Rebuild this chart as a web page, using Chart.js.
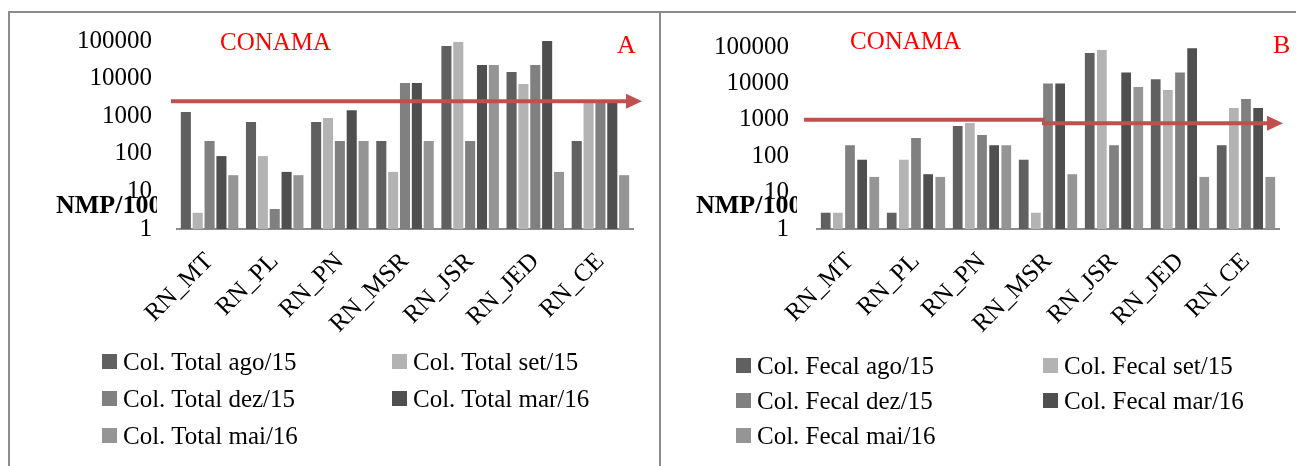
<!DOCTYPE html>
<html>
<head>
<meta charset="utf-8">
<script src="https://cdn.jsdelivr.net/npm/chart.js@4.4.0/dist/chart.umd.min.js"></script>
<style>
  body { margin: 0; background: #fff; font-family: "Liberation Serif", "DejaVu Serif", serif; }
  #page { position: relative; width: 1296px; height: 466px; overflow: hidden; background: #fff; }
  .rule { position: absolute; background: #8c8c8c; }
  .panel { position: absolute; top: 13px; }
  .note { position: absolute; color: #ff0000; line-height: 1; white-space: nowrap; }
  .legend { position: absolute; display: grid; font-size: 25px; color: #000; }
  .legend .item { display: flex; align-items: center; white-space: nowrap; }
  .legend .box { width: 15px; height: 15px; margin-right: 6px; flex: none; }
</style>
</head>
<body>
<div id="page">
  <div class="rule" style="left:8px; top:11px; width:1288px; height:2px;"></div>
  <div class="rule" style="left:8px; top:11px; width:2px; height:455px;"></div>
  <div class="rule" style="left:659px; top:11px; width:2px; height:455px;"></div>

  <div class="panel" style="left:10px;"><canvas id="chartA" width="648" height="332"></canvas></div>
  <div class="panel" style="left:662px;"><canvas id="chartB" width="634" height="332"></canvas></div>

  <div class="note" style="left:220px; top:29px; font-size:25px;">CONAMA</div>
  <div class="note" style="left:617px; top:32px; font-size:26px;">A</div>
  <div class="note" style="left:850px; top:28px; font-size:25px;">CONAMA</div>
  <div class="note" style="left:1273px; top:32px; font-size:26px;">B</div>

  <div class="legend" id="legendA" style="left:102px; top:343px; grid-template-columns:290px 290px; grid-auto-rows:37px;"></div>
  <div class="legend" id="legendB" style="left:736px; top:348px; grid-template-columns:307px 307px; grid-auto-rows:35px;"></div>
</div>

<script>
const categories = ["RN_MT", "RN_PL", "RN_PN", "RN_MSR", "RN_JSR", "RN_JED", "RN_CE"];
const yTicks = [1, 10, 100, 1000, 10000, 100000];
const seriesColors = ["#606060", "#b3b3b3", "#808080", "#4f4f4f", "#959595"];

// Panel A - coliformes totais
const totalLabels = ["Col. Total ago/15", "Col. Total set/15", "Col. Total dez/15", "Col. Total mar/16", "Col. Total mai/16"];
const totalAgo = [1300, 700, 700, 220, 74000, 15000, 220];
const totalSet = [2.7, 87, 900, 33, 94000, 7200, 2300];
const totalDez = [220, 3.4, 220, 7600, 220, 23000, 2300];
const totalMar = [87, 33, 1450, 7600, 23000, 100000, 2300];
const totalMai = [27, 27, 220, 220, 23000, 33, 27];
const limitTotal = [2500];

// Panel B - coliformes fecais
const fecalLabels = ["Col. Fecal ago/15", "Col. Fecal set/15", "Col. Fecal dez/15", "Col. Fecal mar/16", "Col. Fecal mai/16"];
const fecalAgo = [2.8, 2.8, 680, 80, 68000, 13000, 200];
const fecalSet = [2.8, 80, 820, 2.8, 83000, 6600, 2100];
const fecalDez = [200, 316, 380, 10000, 200, 20000, 3700];
const fecalMar = [80, 32, 200, 10000, 20000, 93000, 2100];
const fecalMai = [27, 27, 200, 32, 8000, 27, 27];
const limitFecal = [1000, 800];
const limitFecalStep = 3; // the drawn line drops a little near RN_MSR

const FONT = "'Liberation Serif', 'DejaVu Serif', serif";

// y title (clipped like in the original) + CONAMA limit arrow
const panelExtras = {
  id: "panelExtras",
  afterDatasetsDraw(chart, args, opts) {
    const ctx = chart.ctx;
    const area = chart.chartArea;
    const xs = chart.scales.x;
    const ys = chart.scales.y;

    ctx.save();
    ctx.beginPath();
    ctx.rect(0, 0, area.left - 20, chart.height);
    ctx.clip();
    ctx.font = "bold 26px " + FONT;
    ctx.fillStyle = "#000";
    ctx.textBaseline = "alphabetic";
    ctx.fillText("NMP/100mL", area.left - 121, area.bottom - 16);
    ctx.restore();

    const limits = opts.limits;
    const start = area.left - opts.startOffset;
    const tip = area.right + opts.tipOffset;
    const headLen = 16;
    ctx.save();
    ctx.strokeStyle = "#c0504d";
    ctx.fillStyle = "#c0504d";
    ctx.lineWidth = 4;
    let y0 = ys.getPixelForValue(limits[0]);
    ctx.beginPath();
    if (limits.length > 1) {
      const stepX = xs.getPixelForValue(opts.step) - 6;
      const y1 = ys.getPixelForValue(limits[1]);
      ctx.moveTo(start, y0);
      ctx.lineTo(stepX + 3, y0);
      ctx.moveTo(stepX, y1);
      ctx.lineTo(tip - headLen + 2, y1);
      y0 = y1;
    } else {
      ctx.moveTo(start, y0);
      ctx.lineTo(tip - headLen + 2, y0);
    }
    ctx.stroke();
    ctx.beginPath();
    ctx.moveTo(tip, y0);
    ctx.lineTo(tip - headLen, y0 - 7.5);
    ctx.lineTo(tip - headLen, y0 + 7.5);
    ctx.closePath();
    ctx.fill();
    ctx.restore();
  }
};

function makeDatasets(labels, series, barPct, catPct) {
  return series.map((values, i) => ({
    label: labels[i],
    data: values,
    backgroundColor: seriesColors[i],
    borderWidth: 0,
    barPercentage: barPct,
    categoryPercentage: catPct
  }));
}

function makeChart(id, datasets, cfg) {
  return new Chart(document.getElementById(id), {
    type: "bar",
    data: { labels: categories, datasets: datasets },
    options: {
      responsive: false,
      animation: false,
      layout: { padding: { top: cfg.top, right: cfg.right, left: 0, bottom: 0 } },
      plugins: {
        legend: { display: false },
        tooltip: { enabled: false },
        panelExtras: { limits: cfg.limits, step: cfg.step, startOffset: cfg.startOffset, tipOffset: cfg.tipOffset }
      },
      scales: {
        x: {
          grid: { display: false, drawTicks: false },
          border: { display: true, color: "#8c8c8c", width: 2 },
          ticks: {
            color: "#000",
            autoSkip: false,
            minRotation: 45,
            maxRotation: 45,
            padding: 18,
            font: { family: FONT, size: 25 }
          },
          afterFit: (s) => { s.height = 116; }
        },
        y: {
          type: "logarithmic",
          min: 1,
          max: 100000,
          afterBuildTicks: (s) => { s.ticks = yTicks.map((v) => ({ value: v })); },
          afterFit: (s) => {
            s.width = cfg.yWidth;
            // tick padding would otherwise push the plot top down
            s.paddingTop = 0;
            s.paddingBottom = 0;
          },
          grid: { display: false, drawTicks: false },
          border: { display: false },
          ticks: {
            color: "#000",
            padding: cfg.tickPad,
            font: { family: FONT, size: 25 },
            callback: (v) => String(v)
          }
        }
      }
    },
    plugins: [panelExtras]
  });
}

function buildLegend(el, chart) {
  chart.data.datasets.forEach((ds) => {
    const item = document.createElement("div");
    item.className = "item";
    const box = document.createElement("span");
    box.className = "box";
    box.style.background = ds.backgroundColor;
    const txt = document.createElement("span");
    txt.textContent = ds.label;
    item.appendChild(box);
    item.appendChild(txt);
    el.appendChild(item);
  });
}

const chartA = makeChart("chartA",
  makeDatasets(totalLabels, [totalAgo, totalSet, totalDez, totalMar, totalMai], 0.85, 0.91),
  { top: 28, right: 25, yWidth: 167, tickPad: 25, limits: limitTotal, step: null, startOffset: 6, tipOffset: 9 });

const chartB = makeChart("chartB",
  makeDatasets(fecalLabels, [fecalAgo, fecalSet, fecalDez, fecalMar, fecalMai], 0.8, 0.92),
  { top: 34, right: 17, yWidth: 155, tickPad: 28, limits: limitFecal, step: limitFecalStep, startOffset: 13, tipOffset: 4 });

buildLegend(document.getElementById("legendA"), chartA);
buildLegend(document.getElementById("legendB"), chartB);
</script>
</body>
</html>
